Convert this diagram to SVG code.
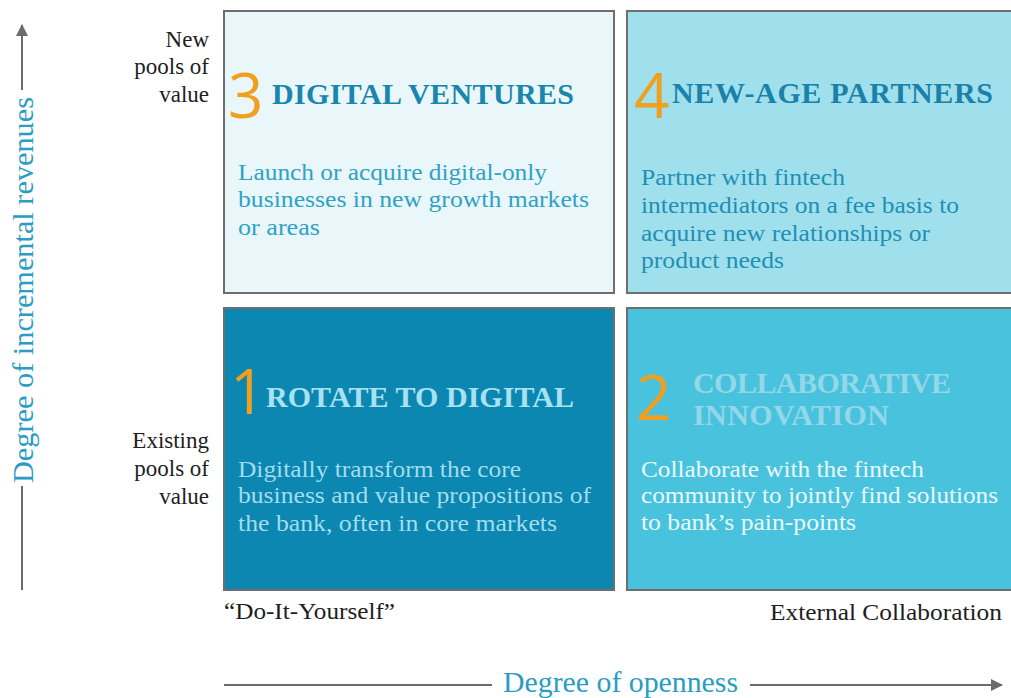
<svg xmlns="http://www.w3.org/2000/svg" width="1011" height="698" viewBox="0 0 1011 698">
  <defs>
    <marker id="arrowHead" viewBox="0 0 12 12" refX="11" refY="6" markerWidth="12" markerHeight="12" markerUnits="userSpaceOnUse" orient="auto">
      <path d="M0,0 L12,6 L0,12 Z" fill="#6b6b6b"/>
    </marker>
    <style>
      .box { stroke: #6e6e6e; stroke-width: 2; }
      .num { font-family: "Open Sans", "Liberation Sans", sans-serif; font-weight: 400; font-size: 62px; fill: #f0a01e; }
      .title { font-family: "Liberation Serif", serif; font-weight: bold; font-size: 30px; }
      .body { font-family: "Liberation Serif", serif; font-size: 23.5px; }
      .label { font-family: "Liberation Serif", serif; font-size: 23px; fill: #1e1e1e; }
      .axisText { font-family: "Liberation Serif", serif; font-size: 29px; fill: #2b9cc2; }
      .axis { stroke: #6b6b6b; stroke-width: 2; fill: none; }
    </style>
  </defs>

  <rect width="1011" height="698" fill="#ffffff"/>

  <!-- Axes -->
  <g id="connectors">
    <line class="axis" x1="22" y1="90" x2="22" y2="25" marker-end="url(#arrowHead)"/>
    <line class="axis" x1="22" y1="486" x2="22" y2="590"/>
    <line class="axis" x1="224" y1="685" x2="492" y2="685"/>
    <line class="axis" x1="750" y1="685" x2="1002" y2="685" marker-end="url(#arrowHead)"/>
  </g>

  <g id="axis-y-title">
    <text class="axisText" transform="translate(33,290) rotate(-90)" text-anchor="middle" textLength="386" lengthAdjust="spacingAndGlyphs">Degree of incremental revenues</text>
  </g>
  <g id="axis-x-title">
    <text class="axisText" x="503" y="692" textLength="235" lengthAdjust="spacingAndGlyphs">Degree of openness</text>
  </g>

  <!-- Row labels -->
  <g id="label-new-pools" class="label" text-anchor="end">
    <text x="209" y="47">New</text>
    <text x="209" y="74">pools of</text>
    <text x="209" y="102">value</text>
  </g>
  <g id="label-existing-pools" class="label" text-anchor="end">
    <text x="209" y="448">Existing</text>
    <text x="209" y="476">pools of</text>
    <text x="209" y="504">value</text>
  </g>

  <!-- Column labels -->
  <g id="label-diy">
    <text class="label" x="224" y="619" textLength="171" lengthAdjust="spacingAndGlyphs">“Do-It-Yourself”</text>
  </g>
  <g id="label-external">
    <text class="label" x="770" y="620" textLength="232" lengthAdjust="spacingAndGlyphs">External Collaboration</text>
  </g>

  <!-- Quadrant 3 -->
  <g id="digital-ventures">
    <rect class="box" x="224" y="11" width="390" height="282" fill="#e9f7fa"/>
    <text class="num" x="228" y="118">3</text>
    <text class="title" x="272" y="104" fill="#1886ad" textLength="302">DIGITAL VENTURES</text>
    <g class="body" fill="#2fa2c5">
      <text x="238" y="180" textLength="309" lengthAdjust="spacingAndGlyphs">Launch or acquire digital-only</text>
      <text x="238" y="207" textLength="351" lengthAdjust="spacingAndGlyphs">businesses in new growth markets</text>
      <text x="238" y="235" textLength="82" lengthAdjust="spacingAndGlyphs">or areas</text>
    </g>
  </g>

  <!-- Quadrant 4 -->
  <g id="new-age-partners">
    <rect class="box" x="627" y="11" width="392" height="282" fill="#9fe0ec"/>
    <text class="num" x="634" y="118">4</text>
    <text class="title" x="672" y="103" fill="#1a82aa" textLength="321">NEW-AGE PARTNERS</text>
    <g class="body" fill="#1f8fb4">
      <text x="641" y="185" textLength="204" lengthAdjust="spacingAndGlyphs">Partner with fintech</text>
      <text x="641" y="213" textLength="318" lengthAdjust="spacingAndGlyphs">intermediators on a fee basis to</text>
      <text x="641" y="241" textLength="289" lengthAdjust="spacingAndGlyphs">acquire new relationships or</text>
      <text x="641" y="268" textLength="143" lengthAdjust="spacingAndGlyphs">product needs</text>
    </g>
  </g>

  <!-- Quadrant 1 -->
  <g id="rotate-to-digital">
    <rect class="box" x="224" y="308" width="390" height="282" fill="#0b87b1"/>
    <text class="num" x="230" y="414">1</text>
    <text class="title" x="266" y="407" fill="#a8e2f0" textLength="308">ROTATE TO DIGITAL</text>
    <g class="body" fill="#a3dded">
      <text x="238" y="477" textLength="283" lengthAdjust="spacingAndGlyphs">Digitally transform the core</text>
      <text x="238" y="503" textLength="353" lengthAdjust="spacingAndGlyphs">business and value propositions of</text>
      <text x="238" y="531" textLength="319" lengthAdjust="spacingAndGlyphs">the bank, often in core markets</text>
    </g>
  </g>

  <!-- Quadrant 2 -->
  <g id="collaborative-innovation">
    <rect class="box" x="627" y="308" width="392" height="282" fill="#49c3dd"/>
    <text class="num" x="636" y="420">2</text>
    <text class="title" x="693" y="393" fill="#93d7e8" textLength="258">COLLABORATIVE</text>
    <text class="title" x="693" y="425" fill="#93d7e8" textLength="196">INNOVATION</text>
    <g class="body" fill="#eaf8fb">
      <text x="641" y="477" textLength="283" lengthAdjust="spacingAndGlyphs">Collaborate with the fintech</text>
      <text x="641" y="503" textLength="357" lengthAdjust="spacingAndGlyphs">community to jointly find solutions</text>
      <text x="641" y="530" textLength="215" lengthAdjust="spacingAndGlyphs">to bank’s pain-points</text>
    </g>
  </g>
</svg>
